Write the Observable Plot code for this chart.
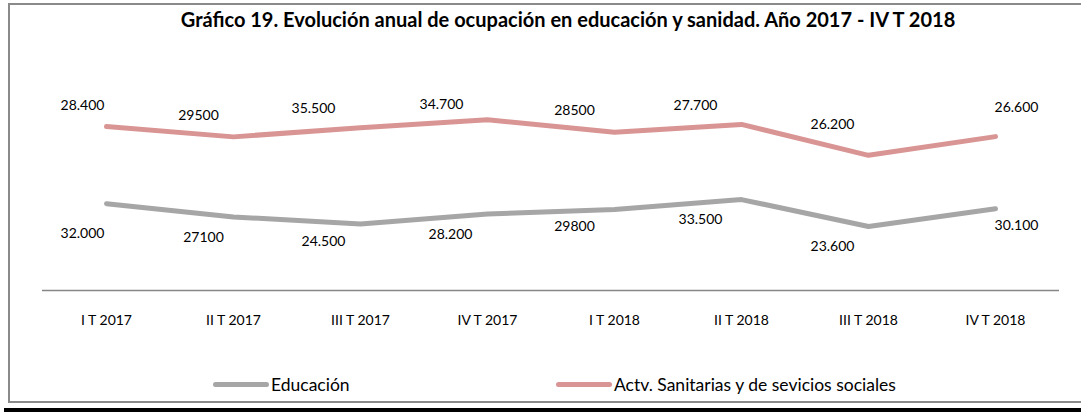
<!DOCTYPE html>
<html>
<head>
<meta charset="utf-8">
<script src="https://cdn.jsdelivr.net/npm/d3@7"></script>
<script src="https://cdn.jsdelivr.net/npm/@observablehq/plot@0.6"></script>
<style>
  html, body { margin: 0; padding: 0; background: #fff; }
  #wrap { position: relative; width: 1081px; height: 412px; overflow: hidden; font-family: Lato, "Open Sans", sans-serif; }
  #frame { position: absolute; left: 8px; top: 3px; width: 1080px; height: 400px; border-left: 2px solid #8a8a8a; border-top: 2px solid #8a8a8a; border-bottom: 2px solid #8a8a8a; box-sizing: border-box; }
  #bar { position: absolute; left: 4px; top: 408px; width: 1077px; height: 4px; background: #000; }
  #title { position: absolute; left: 0; top: 7px; width: 1136px; text-align: center; font-weight: bold; font-size: 20px; color: #000; white-space: nowrap; }
  #chart { position: absolute; left: 0; top: 0; }
  .lg { position: absolute; top: 374px; font-size: 17.5px; color: #000; display: flex; align-items: center; white-space: nowrap; }
  .sw { width: 56px; height: 5px; border-radius: 3px; margin-right: 2px; }
</style>
</head>
<body>
<div id="wrap">
  <div id="frame"></div>
  <div id="bar"></div>
  <div id="title">Gráfico 19. Evolución anual de ocupación en educación y sanidad. Año 2017 - IV T 2018</div>
  <div id="chart"></div>
  <div class="lg" style="left:213px"><div class="sw" style="background:#a6a6a6"></div><span>Educación</span></div>
  <div class="lg" style="left:556px"><div class="sw" style="background:#d99594"></div><span>Actv. Sanitarias y de sevicios sociales</span></div>
</div>
<script>
// ---- data ----
const quarters = ["I T 2017", "II T 2017", "III T 2017", "IV T 2017", "I T 2018", "II T 2018", "III T 2018", "IV T 2018"];
const seriesNames = ["Educación", "Actv. Sanitarias y de sevicios sociales"];
const educacion = [32000, 27100, 24500, 28200, 29800, 33500, 23600, 30100];
const sanitarias = [28400, 29500, 35500, 34700, 28500, 27700, 26200, 26600];
const educacionLabels = ["32.000", "27100", "24.500", "28.200", "29800", "33.500", "23.600", "30.100"];
const sanitariasLabels = ["28.400", "29500", "35.500", "34.700", "28500", "27.700", "26.200", "26.600"];

// ---- layout (label nudges in px, relative to each point) ----
const eduNudge = [[-24, 30], [-30, 21], [-37, 18], [-37, 21], [-40, 17], [-41, 20], [-36, 20], [21, 17]];
const sanNudge = [[-24, -21], [-35, -21], [-47, -19], [-46, -15], [-40, -22], [-46, -19], [-36, -31], [21, -29]];
const colors = ["#a6a6a6", "#d99594"];

const rows = [];
quarters.forEach((q, i) => {
  rows.push({q, s: seriesNames[0], v: educacion[i]});
  rows.push({q, s: seriesNames[1], v: sanitarias[i]});
});
const eduPts = quarters.map((q, i) => ({q, y: educacion[i], t: educacionLabels[i]}));
const sanPts = quarters.map((q, i) => ({q, y: educacion[i] + sanitarias[i], t: sanitariasLabels[i]}));

const labelMarks = [];
eduPts.forEach((d, i) => labelMarks.push(Plot.text([d], {x: "q", y: "y", text: "t", dx: eduNudge[i][0], dy: eduNudge[i][1], fontSize: 14, fill: "#000"})));
sanPts.forEach((d, i) => labelMarks.push(Plot.text([d], {x: "q", y: "y", text: "t", dx: sanNudge[i][0], dy: sanNudge[i][1], fontSize: 14, fill: "#000"})));

const chart = Plot.plot({
  width: 1081,
  height: 340,
  marginLeft: 42,
  marginRight: 22,
  marginTop: 100,
  marginBottom: 50,
  style: {fontFamily: "Lato, 'Open Sans', sans-serif", background: "transparent", color: "#000"},
  x: {type: "point", domain: quarters, padding: 0.5, label: null},
  y: {domain: [0, 70000], axis: null},
  color: {domain: seriesNames, range: colors},
  marks: [
    Plot.ruleY([0], {stroke: "#868686", strokeWidth: 1.5}),
    Plot.axisX({tickSize: 0, tickPadding: 25, fontSize: 14, label: null}),
    Plot.lineY(rows, Plot.stackY2({x: "q", y: "v", z: "s", order: seriesNames, stroke: "s", strokeWidth: 5, strokeLinecap: "round", strokeLinejoin: "round"})),
    ...labelMarks
  ]
});
document.getElementById("chart").appendChild(chart);
</script>
</body>
</html>
